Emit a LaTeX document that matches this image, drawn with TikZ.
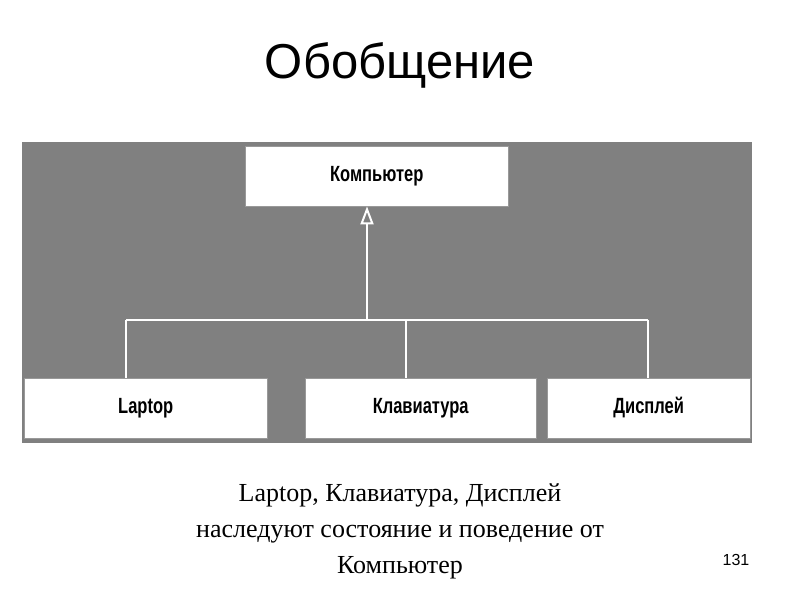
\documentclass[tikz,border=0pt]{standalone}
\usepackage{fontspec}
\setmainfont{Liberation Serif}
\setsansfont{Liberation Sans}
\usetikzlibrary{arrows.meta}
\begin{document}
\begin{tikzpicture}[x=1pt,y=-1pt,
  cls/.style={draw=black!40,fill=white,minimum height=60pt,inner sep=0pt,text height=15pt,text depth=4pt,font=\sffamily\bfseries\fontsize{22}{24}\selectfont},
  wl/.style={draw=white,line width=2.5pt}]
\useasboundingbox (0,0) rectangle (800,600);
\node[font=\sffamily\fontsize{49}{52}\selectfont] (title) at (400,65) {Обобщение};
\fill[black!50] (22,142) rectangle (752,443);
\node[cls,minimum width=263pt,anchor=north west] (comp) at (245,146) {\scalebox{0.75}[1]{Компьютер}};
\node[cls,minimum width=243pt,anchor=north west] (lap) at (24,378) {\scalebox{0.75}[1]{Laptop}};
\node[cls,minimum width=231pt,anchor=north west] (kl) at (305,378) {\scalebox{0.75}[1]{Клавиатура}};
\node[cls,minimum width=203pt,anchor=north west] (dis) at (547,378) {\scalebox{0.75}[1]{Дисплей}};
\coordinate (j) at (367,320);
\draw[wl,-{Triangle[open,length=18pt,width=13pt,line width=2pt,fill=black!50]}] (j) -- (comp.south -| 367,0);
\draw[wl] (126,320) -- (648,320);
\draw[wl] (126,320) -- (lap.north -| 126,0);
\draw[wl] (406,320) -- (kl.north -| 406,0);
\draw[wl] (648,320) -- (dis.north -| 648,0);
\node[font=\fontsize{26}{36}\selectfont,align=center] (txt) at (400,531) {Laptop, Клавиатура, Дисплей\\наследуют состояние и поведение от\\Компьютер};
\node[font=\sffamily\fontsize{16}{18}\selectfont] (num) at (736,560) {131};
\end{tikzpicture}
\end{document}
